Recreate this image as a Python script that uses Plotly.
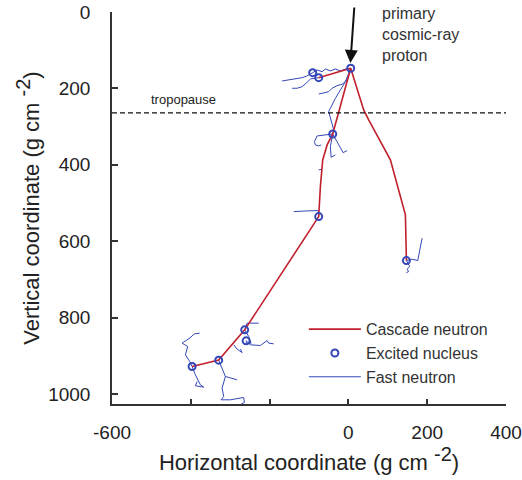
import plotly.graph_objects as go

# ---- data (g cm^-2) ----
# Excited nuclei (interaction points)
NUCLEUS_X = [5.8, -90.6, -75.4, -39.8, -75.4, 147.2, -263.2, -259.6, -329.2, -396.7]
NUCLEUS_Y = [147.3, 158.8, 171.9, 319.2, 535.5, 650.6, 831.9, 860.7, 911.2, 927.9]

# Cascade neutron tracks (None separates tracks)
CASCADE_X = [5.8, -75.4, None,
             5.8, -39.8, -54.0, -65.2, -71.1, -75.4, -263.2, -329.2, -396.7, None,
             5.8, 38.8, 51.5, 102.3, 106.6, 144.7, 147.2]
CASCADE_Y = [147.3, 171.9, None,
             147.3, 319.2, 347.9, 387.2, 457.0, 535.5, 831.9, 911.2, 927.9, None,
             147.3, 256.4, 282.5, 382.7, 387.0, 531.0, 650.6]

# Fast neutron tracks (None separates tracks)
FAST_X = [-90.6, -79.4, -66.8, -58.4, -45.7, -33.0, -20.3, -7.6, 5.8, None,
          -90.6, -96.4, -106.0, -117.5, -134.5, -147.2, -168.3, None,
          -75.4, -83.8, -96.4, -104.8, -117.5, -130.2, -142.9, None,
          5.8, -3.3, -16.0, -28.7, -41.4, -50.0, -66.8, -75.4, None,
          5.8, 2.5, -7.6, -20.3, -33.0, -45.7, -50.0, -37.3, -39.8, None,
          -39.8, -62.7, -79.4, -86.3, -83.8, -75.4, -69.3, None,
          -39.8, -45.7, -43.9, -33.0, None,
          -39.8, -24.6, -13.5, -3.3, None,
          -75.4, -66.8, None,
          -75.4, -75.4, -104.8, -138.8, None,
          147.2, 161.7, 175.9, 181.0, 187.1, None,
          147.2, 155.6, 148.9, 153.0, 147.2, None,
          -263.2, -257.1, -227.6, None,
          -263.2, -253.0, -246.9, -257.1, -259.6, None,
          -259.6, -248.7, -223.3, -206.3, -202.3, -189.6, None,
          -291.1, -282.5, -269.8, -274.1, None,
          -396.7, -402.8, -413.7, -407.9, -422.1, -402.8, -390.9, -377.4, None,
          -396.7, -388.3, -375.6, -367.2, -388.3, -384.0, None,
          -329.2, -320.6, -312.2, -282.5, None,
          -312.2, -320.6, -316.5, -323.1, -299.5, -265.7, -264.0, -278.4]
FAST_Y = [158.8, 151.7, 156.2, 149.1, 154.3, 149.1, 154.3, 149.1, 147.3, None,
          158.8, 163.0, 168.0, 171.9, 175.3, 177.9, 180.5, None,
          171.9, 173.4, 175.3, 183.9, 195.4, 199.6, 199.6, None,
          147.3, 177.9, 189.1, 192.8, 199.6, 208.5, 212.7, 214.5, None,
          147.3, 156.2, 182.3, 204.0, 225.8, 251.9, 260.8, 308.7, 319.2, None,
          319.2, 321.8, 324.4, 339.3, 347.9, 350.5, 347.9, None,
          319.2, 352.4, 380.1, 374.1, None,
          319.2, 347.9, 368.1, 362.8, None,
          413.3, 411.5, None,
          535.5, 519.8, 520.6, 522.4, None,
          650.6, 647.0, 650.6, 622.6, 592.0, None,
          650.6, 666.3, 673.1, 679.4, 682.0, None,
          831.9, 814.4, 814.4, None,
          831.9, 849.4, 866.7, 868.5, 860.7, None,
          860.7, 871.1, 872.9, 859.9, 866.7, 868.5, None,
          871.1, 882.4, 891.3, 882.4, None,
          927.9, 914.8, 897.3, 875.6, 866.7, 853.6, 842.4, 840.5, None,
          927.9, 949.6, 975.8, 981.8, 978.4, 967.2, None,
          911.2, 932.1, 954.0, 962.7, None,
          954.0, 984.4, 1006.4, 1015.0, 1015.0, 1009.0, 1022.0, 1030.0]

# Primary proton arrow (tail -> tip)
PRIMARY_TAIL = (15.2, -15.7)
PRIMARY_TIP = (5.1, 133.4)
TROPOPAUSE = 264

X_TICKS = [-600, -400, -200, 0, 200, 400]
X_TICK_TEXT = ["-600", "", "", "0", "200", "400"]
Y_TICKS = [0, 200, 400, 600, 800, 1000]

RED = "#c0202c"
BLUE = "#3347b8"
FONT = "Liberation Sans, Arial, sans-serif"

fig = go.Figure()
fig.add_trace(go.Scatter(x=FAST_X, y=FAST_Y, mode="lines", name="Fast neutron",
                         line=dict(color=BLUE, width=1), legendrank=3,
                         legendgroup="c"))
fig.add_trace(go.Scatter(x=CASCADE_X, y=CASCADE_Y, mode="lines", name="Cascade neutron",
                         line=dict(color=RED, width=1.6), legendrank=1,
                         legendgroup="a"))
fig.add_trace(go.Scatter(x=NUCLEUS_X, y=NUCLEUS_Y, mode="markers", name="Excited nucleus",
                         marker=dict(symbol="circle-open", size=7, color=BLUE,
                                     line=dict(width=2, color=BLUE)),
                         legendrank=2, legendgroup="b"))

fig.add_shape(type="line", xref="paper", x0=0, x1=1, yref="y", y0=TROPOPAUSE, y1=TROPOPAUSE,
              line=dict(color="#111", width=1.3, dash="5px,3px"))

fig.add_annotation(x=PRIMARY_TIP[0], y=PRIMARY_TIP[1], ax=PRIMARY_TAIL[0], ay=PRIMARY_TAIL[1],
                   xref="x", yref="y", axref="x", ayref="y", text="", showarrow=True,
                   arrowhead=2, arrowsize=1.3, arrowwidth=2, arrowcolor="#111")
fig.add_annotation(x=81, y=1.022, xref="x", yref="paper", xanchor="left", yanchor="top",
                   text="primary<br>cosmic-ray<br>proton", showarrow=False, align="left",
                   font=dict(size=16, color="#333", family=FONT))
fig.add_annotation(x=-505, y=230, xref="x", yref="y", xanchor="left", yanchor="middle",
                   text="tropopause", showarrow=False,
                   font=dict(size=13, color="#222", family=FONT))

sup = "<sup><span style='font-size:20px'>-2</span></sup>"
fig.update_layout(
    width=522, height=480,
    margin=dict(l=112, r=16, t=12, b=76, autoexpand=False),
    paper_bgcolor="white", plot_bgcolor="white",
    font=dict(family=FONT, color="#222"),
    showlegend=True,
    legend=dict(x=0.487, y=0.234, xanchor="left", yanchor="top",
                traceorder="grouped", tracegroupgap=0, itemwidth=52,
                font=dict(size=16, color="#333", family=FONT),
                bgcolor="rgba(0,0,0,0)"),
    xaxis=dict(range=[-600, 400], tickvals=X_TICKS, ticktext=X_TICK_TEXT, automargin=False,
               showgrid=False, zeroline=False, showline=True, linecolor="#333", linewidth=1.5,
               ticks="inside", ticklen=5, tickwidth=1.5, tickcolor="#333",
               tickfont=dict(size=19, color="#222"), ticklabelstandoff=10,
               title=dict(text="Horizontal coordinate (g cm " + sup + ")",
                          font=dict(size=22, color="#222"), standoff=2)),
    yaxis=dict(range=[1026, 0], tickvals=Y_TICKS, automargin=False,
               showgrid=False, zeroline=False, showline=True, linecolor="#333", linewidth=1.5,
               ticks="inside", ticklen=6, tickwidth=1.5, tickcolor="#333",
               tickfont=dict(size=19, color="#222"), ticklabelstandoff=16,
               title=dict(text="Vertical coordinate (g cm " + sup + ")",
                          font=dict(size=22, color="#222"), standoff=2)),
)

fig.write_html("out.html")
